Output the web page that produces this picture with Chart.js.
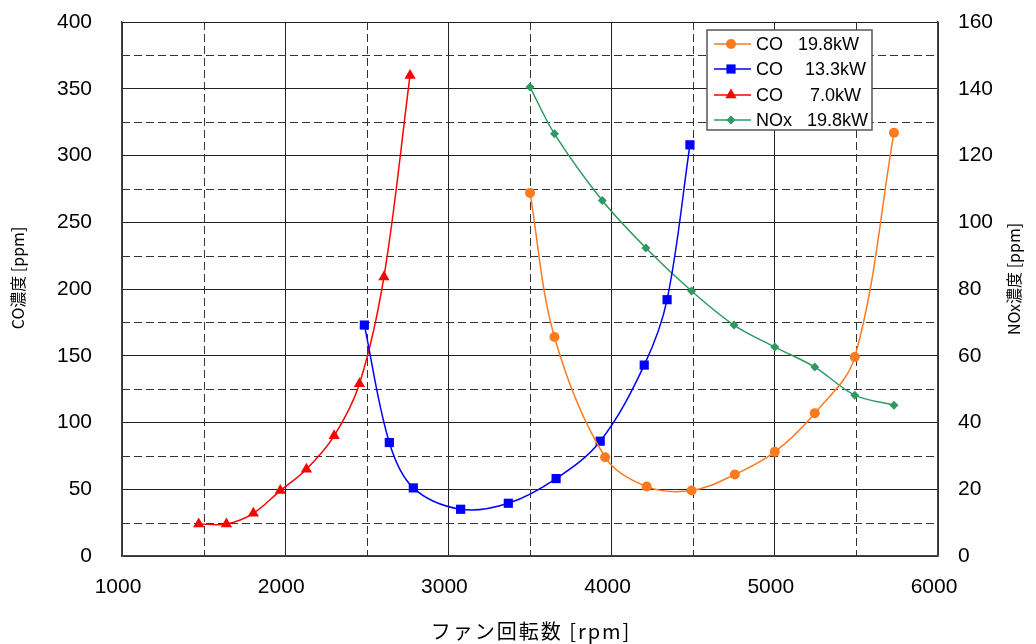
<!DOCTYPE html>
<html>
<head>
<meta charset="utf-8">
<script src="https://cdn.jsdelivr.net/npm/chart.js@4.4.0/dist/chart.umd.min.js"></script>
<style>
  body { margin: 0; background: #fff; }
</style>
</head>
<body>
<canvas id="chart" width="1036" height="644"></canvas>
<script>
// fan speed [rpm] and concentrations [ppm]
const rpmCo198 = [3500, 3650, 3960, 4215, 4490, 4755, 5000, 5245, 5490, 5730];
const co198    = [272, 164, 74, 52, 49, 61, 78, 107, 149, 317];

const rpmCo133 = [2485, 2638, 2785, 3075, 3367, 3660, 3930, 4200, 4340, 4480];
const co133    = [173, 85, 51, 35, 39.5, 58, 86, 143, 192, 308];

const rpmCo70  = [1470, 1640, 1805, 1970, 2130, 2300, 2455, 2605, 2765];
const co70     = [24, 24, 32, 49, 65, 90, 129, 209, 360];

const rpmNox198 = [3500, 3650, 3943, 4210, 4490, 4750, 5000, 5245, 5490, 5730];
const nox198    = [140.5, 126.5, 106.5, 92.3, 79.4, 69.2, 62.6, 56.6, 48.2, 45.2];

const seriesNames  = ["CO", "CO", "CO", "NOx"];
const seriesPowers = ["19.8kW", "13.3kW", "7.0kW", "19.8kW"];

const xTitle  = "ファン回転数 [rpm]";
const yTitle  = "CO濃度 [ppm]";
const y2Title = "NOx濃度 [ppm]";

const toPoints = (xs, ys) => xs.map((x, i) => ({ x: x, y: ys[i] }));

const FONT = "'Liberation Sans', Arial, sans-serif";
const JFONT = "'Noto Sans CJK JP', 'Liberation Sans', sans-serif";
const GRID = "#222";

// dashed half-step grid lines (every 500 rpm / 25 ppm)
const dashedGrid = {
  id: "dashedGrid",
  beforeDatasetsDraw(chart) {
    const { ctx, chartArea: a, scales } = chart;
    ctx.save();
    ctx.strokeStyle = "#333";
    ctx.lineWidth = 1;
    ctx.setLineDash([8, 4]);
    for (let v = 1500; v < 6000; v += 1000) {
      const px = Math.round(scales.x.getPixelForValue(v)) + 0.5;
      ctx.beginPath(); ctx.moveTo(px, a.top); ctx.lineTo(px, a.bottom); ctx.stroke();
    }
    for (let v = 25; v < 400; v += 50) {
      const py = Math.round(scales.y.getPixelForValue(v)) + 0.5;
      ctx.beginPath(); ctx.moveTo(a.left, py); ctx.lineTo(a.right, py); ctx.stroke();
    }
    ctx.restore();
  }
};

// axis titles (both vertical ones read bottom-to-top) and the boxed legend
const decorations = {
  id: "decorations",
  afterDraw(chart) {
    const { ctx } = chart;
    ctx.save();
    ctx.fillStyle = "#000";
    ctx.textAlign = "center";
    ctx.textBaseline = "middle";

    ctx.font = "20px " + JFONT;
    ctx.letterSpacing = "2px";
    ctx.fillText(xTitle, 531, 631);
    ctx.letterSpacing = "0px";

    ctx.font = "16px " + JFONT;
    ctx.save();
    ctx.translate(18, 278);
    ctx.rotate(-Math.PI / 2);
    ctx.fillText(yTitle, 0, 0);
    ctx.restore();
    ctx.save();
    ctx.translate(1014, 279);
    ctx.rotate(-Math.PI / 2);
    ctx.fillText(y2Title, 0, 0);
    ctx.restore();

    // legend box
    ctx.fillStyle = "#fff";
    ctx.fillRect(707, 30, 165, 100);
    ctx.strokeStyle = "#555";
    ctx.lineWidth = 1.5;
    ctx.strokeRect(707, 30, 165, 100);

    const rowsY = [44, 69, 95, 120];
    const valueX = [798, 805, 810, 807];
    ctx.font = "18px " + FONT;
    ctx.textAlign = "left";
    chart.data.datasets.forEach((ds, i) => {
      const y = rowsY[i];
      ctx.strokeStyle = ds.borderColor;
      ctx.lineWidth = ds.borderWidth;
      ctx.beginPath(); ctx.moveTo(714, y); ctx.lineTo(751, y); ctx.stroke();
      ctx.fillStyle = ds.pointBackgroundColor;
      ctx.strokeStyle = ds.borderColor;
      Chart.helpers.drawPoint(ctx, {
        pointStyle: ds.pointStyle, radius: ds.pointRadius, rotation: 0, borderWidth: 0
      }, 731, y);
      ctx.fillStyle = "#000";
      ctx.fillText(seriesNames[i], 756, y + 1);
      ctx.fillText(seriesPowers[i], valueX[i], y + 1);
    });
    ctx.restore();
  }
};

const ds = (data, color, style, radius, axis) => ({
  data: data,
  yAxisID: axis,
  borderColor: color,
  backgroundColor: color,
  pointBackgroundColor: color,
  pointBorderWidth: 0,
  pointStyle: style,
  pointRadius: radius,
  borderWidth: 1.5,
  tension: 0.35,
  fill: false
});

const plain = (v) => String(v);

new Chart(document.getElementById("chart").getContext("2d"), {
  type: "line",
  data: {
    datasets: [
      ds(toPoints(rpmCo198, co198), "#FF7A1E", "circle", 5, "y"),
      ds(toPoints(rpmCo133, co133), "#0000FF", "rect", 6.5, "y"),
      ds(toPoints(rpmCo70, co70), "#FF0000", "triangle", 6.5, "y"),
      ds(toPoints(rpmNox198, nox198), "#2E9A62", "rectRot", 4.5, "y2")
    ]
  },
  options: {
    responsive: false,
    animation: false,
    layout: { padding: { top: 22, left: 0, right: 0, bottom: 0 } },
    plugins: { legend: { display: false }, tooltip: { enabled: false } },
    scales: {
      x: {
        type: "linear",
        min: 1000, max: 6000,
        ticks: { stepSize: 1000, callback: plain, color: "#000", font: { family: FONT, size: 21 }, padding: 19, labelOffset: -4, maxRotation: 0 },
        grid: { color: GRID, lineWidth: 1, drawTicks: false },
        border: { color: "#444", width: 1.5 },
        afterFit: (s) => { s.height = 88; }
      },
      y: {
        position: "left",
        min: 0, max: 400,
        ticks: { stepSize: 50, callback: plain, color: "#000", font: { family: FONT, size: 21 }, padding: 0 },
        // invisible tick marks only push the labels away from the axis
        grid: { color: GRID, lineWidth: 1, drawTicks: true, tickLength: 30, tickColor: "rgba(0,0,0,0)" },
        border: { color: "#444", width: 1.5 },
        afterFit: (s) => { s.width = 122; }
      },
      y2: {
        position: "right",
        min: 0, max: 160,
        ticks: { stepSize: 20, callback: plain, color: "#000", font: { family: FONT, size: 21 }, padding: 0 },
        grid: { display: false, drawTicks: true, tickLength: 20, tickColor: "rgba(0,0,0,0)" },
        border: { color: "#444", width: 1.5 },
        afterFit: (s) => { s.width = 98; }
      }
    }
  },
  plugins: [dashedGrid, decorations]
});
</script>
</body>
</html>
